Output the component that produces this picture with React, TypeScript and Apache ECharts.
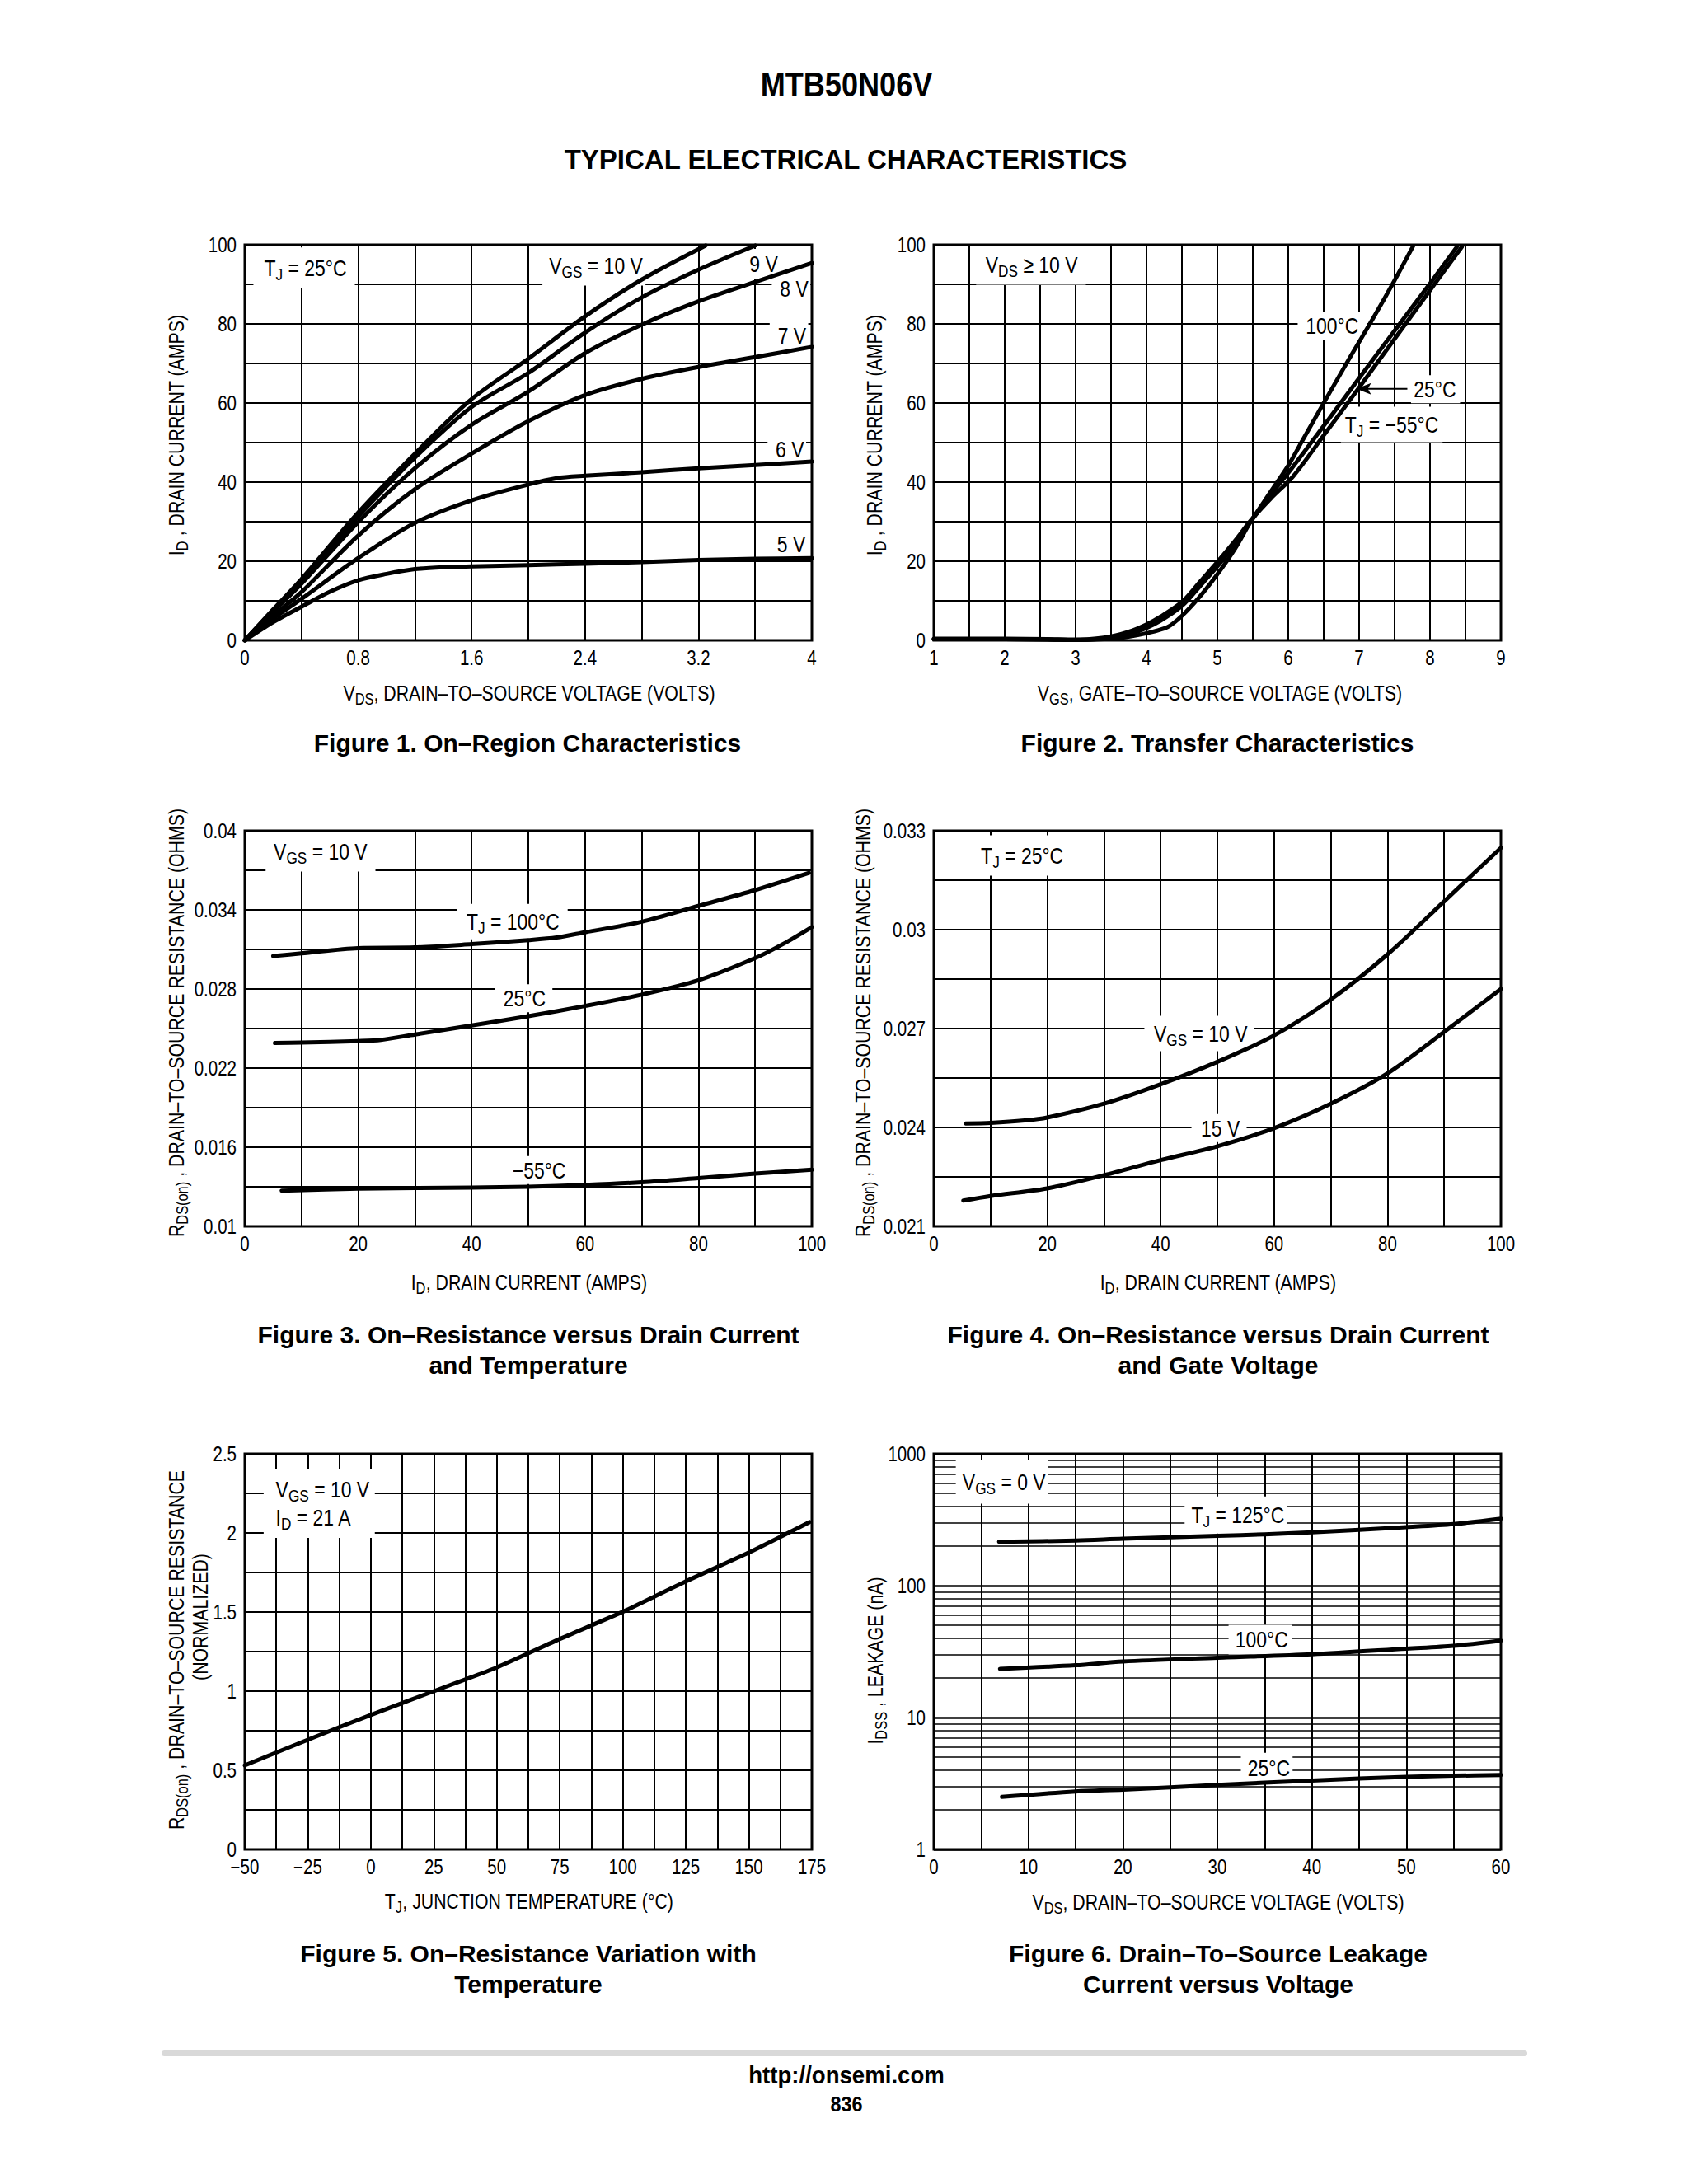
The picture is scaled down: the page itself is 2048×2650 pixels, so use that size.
import React, { useEffect, useRef } from 'react';
import * as echarts from 'echarts';

const SANS = "'Liberation Sans', Arial, Helvetica, sans-serif";
const NARROW_SCALE = 0.82;

// ---------------- Figure 1: On-Region Characteristics ----------------
const fig1XTicks = [0, 0.8, 1.6, 2.4, 3.2, 4];
const fig1XTickText = ['0', '0.8', '1.6', '2.4', '3.2', '4'];
const fig1YTicks = [0, 20, 40, 60, 80, 100];
const fig1YTickText = ['0', '20', '40', '60', '80', '100'];
const fig1Vgs10 = [[0, 0], [0.2, 7.8], [0.4, 15.5], [0.8, 32.3], [1.2, 47.2], [1.6, 61], [2.0, 71.2], [2.4, 81.9], [2.8, 91.2], [3.25, 99.8]];
const fig1Vgs9 = [[0, 0], [0.2, 7.6], [0.4, 15.2], [0.8, 31.3], [1.2, 46.2], [1.6, 59], [2.0, 67.6], [2.4, 77.8], [2.8, 86.7], [3.2, 93.7], [3.6, 99.8]];
const fig1Vgs8 = [[0, 0], [0.2, 7.2], [0.4, 14.3], [0.8, 29.9], [1.2, 43.5], [1.6, 54.5], [2.0, 62.9], [2.4, 72.6], [2.8, 79.8], [3.2, 85.7], [3.6, 90.6], [4.0, 95.4]];
const fig1Vgs7 = [[0, 0], [0.2, 6.2], [0.4, 12.2], [0.8, 26.5], [1.2, 38.2], [1.6, 47.2], [2.0, 55.4], [2.4, 62], [2.8, 66.1], [3.2, 69.1], [3.6, 71.6], [4.0, 74.2]];
const fig1Vgs6 = [[0, 0], [0.2, 5.5], [0.4, 10.5], [0.8, 20.8], [1.2, 29.7], [1.6, 35.4], [2.0, 39.4], [2.2, 41], [2.4, 41.6], [2.8, 42.5], [3.2, 43.5], [3.6, 44.3], [4.0, 45.2]];
const fig1Vgs5 = [[0, 0], [0.2, 4.6], [0.4, 8.5], [0.6, 12.3], [0.8, 15.2], [1.0, 16.8], [1.2, 18], [1.4, 18.5], [1.6, 18.7], [2.0, 19], [2.4, 19.4], [2.8, 19.8], [3.2, 20.3], [3.6, 20.6], [4.0, 20.8]];

// ---------------- Figure 2: Transfer Characteristics ----------------
const fig2XTicks = [1, 2, 3, 4, 5, 6, 7, 8, 9];
const fig2XTickText = ['1', '2', '3', '4', '5', '6', '7', '8', '9'];
const fig2YTicks = [0, 20, 40, 60, 80, 100];
const fig2YTickText = ['0', '20', '40', '60', '80', '100'];
const fig2T100 = [[1, 0.3], [2, 0.3], [2.6, 0.2], [3.0, 0.1], [3.4, 0.3], [3.7, 0.8], [4.0, 1.8], [4.3, 3.4], [4.5, 6.2], [4.75, 11], [5.0, 16.7], [5.25, 23.2], [5.47, 30], [5.75, 37.5], [6.0, 44.2], [6.2, 50.5], [6.5, 60], [6.87, 71.5], [7.2, 81.5], [7.5, 91], [7.76, 99.6]];
const fig2T25 = [[1, 0.3], [2, 0.3], [2.6, 0.2], [3.0, 0.1], [3.3, 0.3], [3.6, 1], [3.9, 2.4], [4.2, 5], [4.5, 8.7], [4.75, 13.6], [5.0, 18.7], [5.25, 24.3], [5.47, 30], [5.75, 36.7], [6.05, 43.5], [6.5, 54.2], [7.0, 66.3], [7.5, 78.3], [8.0, 90.2], [8.38, 99.5]];
const fig2Tm55 = [[1, 0.4], [2, 0.4], [2.6, 0.3], [3.0, 0.2], [3.2, 0.3], [3.5, 1], [3.8, 2.5], [4.0, 4], [4.2, 6], [4.5, 9.7], [4.75, 14.7], [5.0, 19.8], [5.25, 25.2], [5.47, 30.3], [5.75, 35.8], [6.07, 41.5], [6.5, 51.8], [7.0, 63.9], [7.5, 76.2], [8.0, 88.5], [8.45, 99.5]];

// ---------------- Figure 3: On-Resistance vs Drain Current & Temperature ----------------
const fig3XTicks = [0, 20, 40, 60, 80, 100];
const fig3XTickText = ['0', '20', '40', '60', '80', '100'];
const fig3YTicks = [0.01, 0.016, 0.022, 0.028, 0.034, 0.04];
const fig3YTickText = ['0.01', '0.016', '0.022', '0.028', '0.034', '0.04'];
const fig3YGrid = [0.01, 0.013, 0.016, 0.019, 0.022, 0.025, 0.028, 0.031, 0.034, 0.037, 0.04];
const fig3T100 = [[5, 0.0305], [10, 0.0307], [20, 0.0311], [30, 0.03115], [40, 0.0314], [50, 0.0317], [55, 0.0319], [60, 0.0323], [70, 0.0331], [80, 0.0343], [90, 0.0355], [99.5, 0.0368]];
const fig3T25 = [[5.3, 0.0239], [10, 0.02394], [20, 0.02405], [24, 0.02414], [30, 0.02455], [40, 0.02523], [50, 0.02594], [60, 0.02671], [70, 0.02757], [80, 0.02866], [90, 0.03034], [95, 0.03143], [100, 0.0327]];
const fig3Tm55 = [[6.5, 0.01271], [20, 0.01286], [40, 0.01294], [50, 0.013], [60, 0.01314], [70, 0.01334], [80, 0.01366], [90, 0.014], [100, 0.01429]];

// ---------------- Figure 4: On-Resistance vs Drain Current & Gate Voltage ----------------
const fig4XTicks = [0, 20, 40, 60, 80, 100];
const fig4XTickText = ['0', '20', '40', '60', '80', '100'];
const fig4YTicks = [0.021, 0.024, 0.027, 0.03, 0.033];
const fig4YTickText = ['0.021', '0.024', '0.027', '0.03', '0.033'];
const fig4YGrid = [0.021, 0.0225, 0.024, 0.0255, 0.027, 0.0285, 0.03, 0.0315, 0.033];
const fig4Vgs10 = [[5.6, 0.02412], [10, 0.02414], [16, 0.02421], [20, 0.0243], [30, 0.02472], [40, 0.02531], [50, 0.02599], [60, 0.02679], [70, 0.02788], [80, 0.02925], [90, 0.03086], [100, 0.03248]];
const fig4Vgs15 = [[5.2, 0.02178], [10, 0.02192], [20, 0.02215], [30, 0.02255], [40, 0.02301], [50, 0.02343], [60, 0.02398], [70, 0.02472], [80, 0.02564], [90, 0.0269], [100, 0.0282]];

// ---------------- Figure 5: On-Resistance Variation with Temperature ----------------
const fig5XTicks = [-50, -25, 0, 25, 50, 75, 100, 125, 150, 175];
const fig5XTickText = ['\u221250', '\u221225', '0', '25', '50', '75', '100', '125', '150', '175'];
const fig5YTicks = [0, 0.5, 1, 1.5, 2, 2.5];
const fig5YTickText = ['0', '0.5', '1', '1.5', '2', '2.5'];
const fig5Rds = [[-50, 0.531], [-25, 0.693], [0, 0.85], [25, 1.0], [50, 1.15], [75, 1.33], [100, 1.502], [125, 1.694], [150, 1.876], [174, 2.068]];

// ---------------- Figure 6: Drain-To-Source Leakage ----------------
const fig6XTicks = [0, 10, 20, 30, 40, 50, 60];
const fig6XTickText = ['0', '10', '20', '30', '40', '50', '60'];
const fig6YTicks = [1, 10, 100, 1000];
const fig6YTickText = ['1', '10', '100', '1000'];
const fig6YMinor = [2, 3, 4, 5, 6, 7, 8, 9, 20, 30, 40, 50, 60, 70, 80, 90, 200, 300, 400, 500, 600, 700, 800, 900];
const fig6T125 = [[6.9, 215], [15, 220], [20, 227], [30, 239], [35, 245], [40, 254], [50, 278], [55, 293], [60, 322]];
const fig6T100 = [[7, 23.4], [15, 24.9], [20, 26.6], [30, 28.4], [40, 30.2], [50, 33.3], [55, 35], [60, 38.3]];
const fig6T25 = [[7.2, 2.5], [15, 2.75], [20, 2.84], [30, 3.08], [40, 3.33], [50, 3.55], [55, 3.62], [60, 3.66]];

const TICK_SETS = [
  { x: fig1XTicks, xt: fig1XTickText, y: fig1YTicks, yt: fig1YTickText },
  { x: fig2XTicks, xt: fig2XTickText, y: fig2YTicks, yt: fig2YTickText },
  { x: fig3XTicks, xt: fig3XTickText, y: fig3YTicks, yt: fig3YTickText },
  { x: fig4XTicks, xt: fig4XTickText, y: fig4YTicks, yt: fig4YTickText },
  { x: fig5XTicks, xt: fig5XTickText, y: fig5YTicks, yt: fig5YTickText },
  { x: fig6XTicks, xt: fig6XTickText, y: fig6YTicks, yt: fig6YTickText },
];

// ---------------- Layout ----------------
const GRIDS = [
  { left: 297, top: 297 }, { left: 1133, top: 297 },
  { left: 297, top: 1008 }, { left: 1133, top: 1008 },
  { left: 297, top: 1764 }, { left: 1133, top: 1764 },
];
const PW = 688;
const PH = 480;
const GRID_LINE = { color: '#000', width: 2 };

function linAxis(gridIndex: number, min: number, max: number, interval: number) {
  return {
    type: 'value', gridIndex, min, max, interval,
    axisLine: { show: false }, axisTick: { show: false }, axisLabel: { show: false },
    splitLine: { show: true, lineStyle: GRID_LINE },
    minorTick: { show: false, splitNumber: 2 },
    minorSplitLine: { show: true, lineStyle: GRID_LINE },
  };
}

function customAxis(gridIndex: number, min: number, max: number, grid: number[]) {
  return {
    type: 'value', gridIndex, min, max,
    axisLine: { show: false },
    axisTick: { show: false, customValues: grid },
    axisLabel: { show: false },
    splitLine: { show: true, lineStyle: GRID_LINE },
  };
}

function curve(idx: number, data: number[][], extra: any = {}) {
  return {
    type: 'line', xAxisIndex: idx, yAxisIndex: idx, data,
    smooth: 0.3, symbol: 'none', showSymbol: false,
    lineStyle: { color: '#000', width: 5, cap: 'round', join: 'round' }, itemStyle: { color: '#000' },
    silent: true, clip: true, z: 5, animation: false, ...extra,
  };
}

function buildOption() {
  return {
    animation: false,
    backgroundColor: '#fff',
    grid: GRIDS.map((g) => ({
      left: g.left, top: g.top, width: PW, height: PH, containLabel: false, outerBoundsMode: 'none',
      show: true, borderColor: '#000', borderWidth: 3, backgroundColor: 'transparent', z: 6,
    })),
    xAxis: [
      linAxis(0, 0, 4, 0.8),
      linAxis(1, 1, 9, 1),
      linAxis(2, 0, 100, 20),
      linAxis(3, 0, 100, 20),
      linAxis(4, -50, 175, 25),
      linAxis(5, 0, 60, 10),
    ],
    yAxis: [
      linAxis(0, 0, 100, 20),
      linAxis(1, 0, 100, 20),
      customAxis(2, 0.01, 0.04, fig3YGrid),
      customAxis(3, 0.021, 0.033, fig4YGrid),
      linAxis(4, 0, 2.5, 0.5),
      {
        type: 'log', gridIndex: 5, logBase: 10, min: 1, max: 1000,
        axisLine: { show: false }, axisTick: { show: false }, axisLabel: { show: false },
        splitLine: { show: true, lineStyle: { color: '#000', width: 2.5 } },
      },
    ],
    series: [
      curve(0, fig1Vgs10), curve(0, fig1Vgs9), curve(0, fig1Vgs8), curve(0, fig1Vgs7), curve(0, fig1Vgs6), curve(0, fig1Vgs5),
      curve(1, fig2T100), curve(1, fig2T25), curve(1, fig2Tm55),
      curve(2, fig3T100), curve(2, fig3T25), curve(2, fig3Tm55),
      curve(3, fig4Vgs10), curve(3, fig4Vgs15),
      curve(4, fig5Rds, { smooth: 0.2 }),
      curve(5, fig6T125), curve(5, fig6T100), curve(5, fig6T25),
      // minor decade grid lines of the log axis (drawn below the annotation boxes)
      curve(5, fig6T25, {
        z: 1,
        lineStyle: { color: '#000', width: 0, opacity: 0 },
        markLine: {
          z: 1, zlevel: 0,
          silent: true, symbol: ['none', 'none'], animation: false,
          label: { show: false },
          lineStyle: { color: '#000', width: 1.5, type: 'solid', opacity: 1 },
          emphasis: { disabled: true },
          data: fig6YMinor.map((v) => ({ yAxis: v })),
        },
      }),
    ],
  };
}

// ---------------- Text layout ----------------
const ANN_RICH = { s: { fontSize: 21, fontFamily: SANS, fill: '#000', padding: [16, 0, 0, 0] } };
const ANN2_RICH = { s: { fontSize: 21, fontFamily: SANS, fill: '#000', lineHeight: 18, padding: [16, 0, 0, 0] } };
const NAME_RICH = { s: { fontSize: 20, fontFamily: SANS, fill: '#000', padding: [14, 0, 0, 0] } };

type Ann = { fig: number; at: [number, number]; text: string; align: 'left' | 'right' | 'center'; pad: number[]; lh?: number };
const ANNOTATIONS: Ann[] = [
  { fig: 0, at: [0.137, 94.2], text: 'T{s|J} = 25°C', align: 'left', pad: [6, 12, 6, 16] },
  { fig: 0, at: [2.147, 94.8], text: 'V{s|GS} = 10 V', align: 'left', pad: [6, 4, 6, 10] },
  { fig: 0, at: [3.56, 95.2], text: '9 V', align: 'left', pad: [4, 4, 4, 6] },
  { fig: 0, at: [3.975, 89], text: '8 V', align: 'right', pad: [3, 3, 3, 12] },
  { fig: 0, at: [3.96, 77.1], text: '7 V', align: 'right', pad: [3, 3, 3, 12] },
  { fig: 0, at: [3.945, 48.3], text: '6 V', align: 'right', pad: [3, 3, 3, 12] },
  { fig: 0, at: [3.955, 24.4], text: '5 V', align: 'right', pad: [3, 3, 3, 12] },
  { fig: 1, at: [1.73, 95], text: 'V{s|DS} \u2265 10 V', align: 'left', pad: [6, 12, 6, 14] },
  { fig: 1, at: [6.62, 79.6], text: '100°C', align: 'center', pad: [3, 12, 3, 12] },
  { fig: 1, at: [7.77, 63.5], text: '25°C', align: 'left', pad: [3, 6, 3, 4] },
  { fig: 1, at: [6.8, 54.6], text: 'T{s|J} = \u221255°C', align: 'left', pad: [3, 6, 3, 6] },
  { fig: 2, at: [5.1, 0.03843], text: 'V{s|GS} = 10 V', align: 'left', pad: [6, 12, 6, 12] },
  { fig: 2, at: [39.1, 0.03311], text: 'T{s|J} = 100°C', align: 'left', pad: [3, 12, 3, 14] },
  { fig: 2, at: [45.6, 0.02729], text: '25°C', align: 'left', pad: [3, 10, 3, 12] },
  { fig: 2, at: [47.2, 0.01426], text: '\u221255°C', align: 'left', pad: [3, 6, 3, 6] },
  { fig: 3, at: [8.3, 0.03225], text: 'T{s|J} = 25°C', align: 'left', pad: [6, 12, 6, 12] },
  { fig: 3, at: [38.8, 0.02685], text: 'V{s|GS} = 10 V', align: 'left', pad: [3, 10, 3, 14] },
  { fig: 3, at: [47.1, 0.02398], text: '15 V', align: 'left', pad: [3, 10, 3, 14] },
  { fig: 4, at: [-37.7, 2.188], text: 'V{s|GS} = 10 V\nI{s|D} = 21 A', align: 'left', pad: [8, 8, 8, 18], lh: 34 },
  { fig: 5, at: [3.04, 612], text: 'V{s|GS} = 0 V', align: 'left', pad: [8, 4, 8, 10] },
  { fig: 5, at: [27.25, 343], text: 'T{s|J} = 125°C', align: 'left', pad: [4, 4, 4, 10] },
  { fig: 5, at: [31.9, 39], text: '100°C', align: 'left', pad: [4, 6, 4, 10] },
  { fig: 5, at: [33.2, 4.17], text: '25°C', align: 'left', pad: [4, 4, 4, 10] },
];
const FIG2_ARROW = { fig: 1, from: [7.68, 63.6], to: [6.96, 63.6] };

type Txt = { x: number; y: number; text: string; size: number; bold?: boolean; sx?: number; rot?: boolean };
const TEXTS: Txt[] = [
  { x: 1027, y: 103, text: 'MTB50N06V', size: 42, bold: true, sx: 0.86 },
  { x: 1026, y: 193, text: 'TYPICAL ELECTRICAL CHARACTERISTICS', size: 33, bold: true },
  // axis names
  { x: 642, y: 841, text: 'V{s|DS}, DRAIN\u2013TO\u2013SOURCE VOLTAGE (VOLTS)', size: 26, sx: NARROW_SCALE },
  { x: 214, y: 528, text: 'I{s|D} , DRAIN CURRENT (AMPS)', size: 26, sx: NARROW_SCALE, rot: true },
  { x: 1480, y: 841, text: 'V{s|GS}, GATE\u2013TO\u2013SOURCE VOLTAGE (VOLTS)', size: 26, sx: NARROW_SCALE },
  { x: 1061, y: 528, text: 'I{s|D} , DRAIN CURRENT (AMPS)', size: 26, sx: NARROW_SCALE, rot: true },
  { x: 642, y: 1556, text: 'I{s|D}, DRAIN CURRENT (AMPS)', size: 26, sx: NARROW_SCALE },
  { x: 214, y: 1241, text: 'R{s|DS(on)} , DRAIN\u2013TO\u2013SOURCE RESISTANCE (OHMS)', size: 26, sx: NARROW_SCALE, rot: true },
  { x: 1478, y: 1556, text: 'I{s|D}, DRAIN CURRENT (AMPS)', size: 26, sx: NARROW_SCALE },
  { x: 1047, y: 1241, text: 'R{s|DS(on)} , DRAIN\u2013TO\u2013SOURCE RESISTANCE (OHMS)', size: 26, sx: NARROW_SCALE, rot: true },
  { x: 642, y: 2307, text: 'T{s|J}, JUNCTION TEMPERATURE (°C)', size: 26, sx: NARROW_SCALE },
  { x: 214, y: 2002, text: 'R{s|DS(on)} , DRAIN\u2013TO\u2013SOURCE RESISTANCE', size: 26, sx: NARROW_SCALE, rot: true },
  { x: 243, y: 1962, text: '(NORMALIZED)', size: 26, sx: NARROW_SCALE, rot: true },
  { x: 1478, y: 2308, text: 'V{s|DS}, DRAIN\u2013TO\u2013SOURCE VOLTAGE (VOLTS)', size: 26, sx: NARROW_SCALE },
  { x: 1062, y: 2015, text: 'I{s|DSS} , LEAKAGE (nA)', size: 26, sx: NARROW_SCALE, rot: true },
  // captions
  { x: 640, y: 901, text: 'Figure 1. On\u2013Region Characteristics', size: 30, bold: true },
  { x: 1477, y: 901, text: 'Figure 2. Transfer Characteristics', size: 30, bold: true },
  { x: 641, y: 1619, text: 'Figure 3. On\u2013Resistance versus Drain Current', size: 30, bold: true },
  { x: 641, y: 1656, text: 'and Temperature', size: 30, bold: true },
  { x: 1478, y: 1619, text: 'Figure 4. On\u2013Resistance versus Drain Current', size: 30, bold: true },
  { x: 1478, y: 1656, text: 'and Gate Voltage', size: 30, bold: true },
  { x: 641, y: 2370, text: 'Figure 5. On\u2013Resistance Variation with', size: 30, bold: true },
  { x: 641, y: 2407, text: 'Temperature', size: 30, bold: true },
  { x: 1478, y: 2370, text: 'Figure 6. Drain\u2013To\u2013Source Leakage', size: 30, bold: true },
  { x: 1478, y: 2407, text: 'Current versus Voltage', size: 30, bold: true },
  // footer
  { x: 1027, y: 2518, text: 'http://onsemi.com', size: 30, bold: true, sx: 0.92 },
  { x: 1027, y: 2553, text: '836', size: 26, bold: true, sx: 0.9 },
];

function buildGraphics(chart: any) {
  const els: any[] = [];
  els.push({
    type: 'rect', z: 50, shape: { x: 196, y: 2488, width: 1657, height: 7, r: 3.5 },
    style: { fill: '#d9d9d9' },
  });
  for (const t of TEXTS) {
    els.push({
      type: 'text', x: t.x, y: t.y, rotation: t.rot ? Math.PI / 2 : 0, scaleX: t.sx || 1, z: 100,
      style: {
        text: t.text, rich: NAME_RICH, fill: '#000', fontSize: t.size,
        fontFamily: SANS, fontWeight: t.bold ? 'bold' : 'normal',
        align: 'center', verticalAlign: 'middle',
      },
    });
  }
  // tick labels, placed through each axis' own scale
  TICK_SETS.forEach((ts, f) => {
    const g = GRIDS[f];
    ts.x.forEach((v, i) => {
      const px = chart.convertToPixel({ xAxisIndex: f }, v);
      els.push({
        type: 'text', x: px, y: g.top + PH + 21, scaleX: NARROW_SCALE, z: 100,
        style: { text: ts.xt[i], fill: '#000', fontSize: 25, fontFamily: SANS, align: 'center', verticalAlign: 'middle' },
      });
    });
    ts.y.forEach((v, i) => {
      const py = chart.convertToPixel({ yAxisIndex: f }, v);
      els.push({
        type: 'text', x: g.left - 10, y: py, scaleX: NARROW_SCALE, z: 100,
        style: { text: ts.yt[i], fill: '#000', fontSize: 25, fontFamily: SANS, align: 'right', verticalAlign: 'middle' },
      });
    });
  });
  // in-plot annotations: white boxes above the grid lines but below the curves
  for (const a of ANNOTATIONS) {
    const p = chart.convertToPixel({ xAxisIndex: a.fig, yAxisIndex: a.fig }, a.at);
    const [pt, pr, pb, pl] = a.pad;
    const x = a.align === 'left' ? p[0] - pl * NARROW_SCALE : a.align === 'right' ? p[0] + pr * NARROW_SCALE : p[0];
    els.push({
      type: 'text', x, y: p[1], scaleX: NARROW_SCALE, z: 3,
      style: {
        text: a.text, rich: a.lh ? ANN2_RICH : ANN_RICH, fill: '#000', fontSize: 28, fontFamily: SANS,
        lineHeight: a.lh, align: a.align, verticalAlign: 'middle', backgroundColor: '#fff', padding: [pt, pr, pb, pl],
      },
    });
  }
  const f = chart.convertToPixel({ xAxisIndex: FIG2_ARROW.fig, yAxisIndex: FIG2_ARROW.fig }, FIG2_ARROW.from);
  const to = chart.convertToPixel({ xAxisIndex: FIG2_ARROW.fig, yAxisIndex: FIG2_ARROW.fig }, FIG2_ARROW.to);
  els.push({
    type: 'line', z: 101, shape: { x1: f[0], y1: f[1], x2: to[0] + 12, y2: to[1] },
    style: { stroke: '#000', lineWidth: 2 },
  });
  els.push({
    type: 'polygon', z: 101,
    shape: { points: [[to[0], to[1]], [to[0] + 18, to[1] - 7], [to[0] + 14, to[1]], [to[0] + 18, to[1] + 7]] },
    style: { fill: '#000' },
  });
  return els;
}

export default function App() {
  const ref = useRef<HTMLDivElement>(null);
  useEffect(() => {
    const chart = echarts.init(ref.current as HTMLDivElement, null, { renderer: 'svg' });
    chart.setOption(buildOption() as any);
    chart.setOption({ graphic: buildGraphics(chart) } as any);
    return () => chart.dispose();
  }, []);
  return (
    <div
      ref={ref}
      style={{ position: 'absolute', left: 0, top: 0, width: 2048, height: 2650, background: '#fff' }}
    />
  );
}
